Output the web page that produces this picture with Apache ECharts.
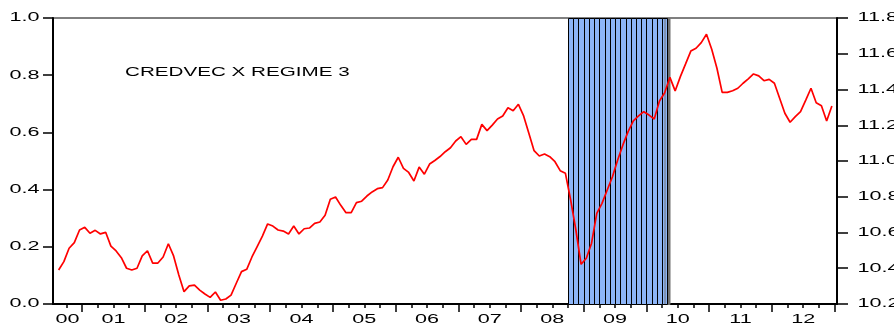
<!DOCTYPE html>
<html>
<head>
<meta charset="utf-8">
<script src="https://cdn.jsdelivr.net/npm/echarts@6/dist/echarts.min.js"></script>
<style>
  html, body { margin: 0; padding: 0; background: #ffffff; }
  #chart { width: 894px; height: 326px; }
</style>
</head>
<body>
<div id="chart"></div>
<script>
// CREDVEC, monthly, from August 2000 to December 2012 (right axis)
const firstYear = 2000;
const firstMonth = 8;
const credvec = [
  10.390, 10.437, 10.512, 10.543, 10.614, 10.629, 10.596, 10.612, 10.592, 10.601,
  10.524, 10.497, 10.459, 10.400, 10.390, 10.400, 10.469, 10.498, 10.429, 10.429,
  10.463, 10.537, 10.469, 10.362, 10.269, 10.301, 10.306, 10.278, 10.256, 10.237,
  10.267, 10.221, 10.228, 10.250, 10.316, 10.381, 10.394, 10.463, 10.521, 10.580,
  10.648, 10.636, 10.614, 10.608, 10.592, 10.636, 10.592, 10.621, 10.625, 10.651,
  10.659, 10.696, 10.786, 10.799, 10.752, 10.711, 10.711, 10.767, 10.775, 10.804,
  10.827, 10.845, 10.851, 10.894, 10.968, 11.021, 10.959, 10.936, 10.888, 10.966,
  10.926, 10.983, 11.003, 11.025, 11.052, 11.074, 11.112, 11.136, 11.093, 11.121,
  11.121, 11.205, 11.170, 11.201, 11.235, 11.252, 11.298, 11.281, 11.317, 11.252,
  11.155, 11.058, 11.028, 11.039, 11.024, 10.996, 10.946, 10.931, 10.782, 10.614,
  10.422, 10.456, 10.540, 10.707, 10.763, 10.838, 10.912, 11.006, 11.090, 11.164,
  11.224, 11.252, 11.276, 11.257, 11.235, 11.336, 11.382, 11.468, 11.392, 11.472,
  11.543, 11.615, 11.631, 11.662, 11.709, 11.625, 11.519, 11.384, 11.384, 11.393,
  11.407, 11.435, 11.460, 11.487, 11.476, 11.449, 11.457, 11.435, 11.351, 11.267,
  11.217, 11.248, 11.276, 11.341, 11.407, 11.326, 11.309, 11.224, 11.308
];

// Months in regime 3 and their regime probability (left axis)
const regime3Months = [
  '2008-10', '2008-11', '2008-12',
  '2009-01', '2009-02', '2009-03', '2009-04', '2009-05', '2009-06',
  '2009-07', '2009-08', '2009-09', '2009-10', '2009-11', '2009-12',
  '2010-01', '2010-02', '2010-03', '2010-04'
];
const regime3Prob = [1, 1, 1, 1, 1, 1, 1, 1, 1, 1, 1, 1, 1, 1, 1, 1, 1, 1, 1];

// Axis ticks and their labels
const leftTicks = [0, 0.2, 0.4, 0.6, 0.8, 1.0];
const leftTickLabels = ['0.0', '0.2', '0.4', '0.6', '0.8', '1.0'];
const rightTicks = [10.2, 10.4, 10.6, 10.8, 11.0, 11.2, 11.4, 11.6, 11.8];
const rightTickLabels = ['10.2', '10.4', '10.6', '10.8', '11.0', '11.2', '11.4', '11.6', '11.8'];
const years = [2000, 2001, 2002, 2003, 2004, 2005, 2006, 2007, 2008, 2009, 2010, 2011, 2012];
const yearLabels = ['00', '01', '02', '03', '04', '05', '06', '07', '08', '09', '10', '11', '12'];
const seriesTitle = 'CREDVEC X REGIME 3';

// Time axis range in fractional years
const X_MIN = 2000.535;
const X_MAX = 2013.04;

const LABEL_FONT = 'Liberation Sans, Arial, sans-serif';
const LABEL_STRETCH = 1.8;

// Observations sit at mid-month
const lineData = credvec.map((v, i) => {
  const idx = firstMonth - 1 + i;
  const y = firstYear + Math.floor(idx / 12);
  const m = (idx % 12) + 1;
  return [y + (m - 0.5) / 12, v];
});

// Each regime bar spans its whole month
const regimeData = regime3Months.map((s, i) => {
  const [y, m] = s.split('-').map(Number);
  return [y + (m - 1) / 12, y + m / 12, regime3Prob[i]];
});

const yearTickValues = [];
const quarterTickValues = [];
for (let y = 2000; y <= 2013; y++) {
  if (y >= X_MIN && y <= X_MAX) yearTickValues.push(y);
  [0.25, 0.5, 0.75].forEach(q => {
    if (y + q >= X_MIN && y + q <= X_MAX) quarterTickValues.push(y + q);
  });
}

const chart = echarts.init(document.getElementById('chart'), null, { renderer: 'canvas' });

const axisLine = { show: true, lineStyle: { color: '#000', width: 2 } };

chart.setOption({
  animation: false,
  backgroundColor: '#ffffff',
  grid: {
    left: 53, right: 57, top: 18, bottom: 22,
    show: true, borderColor: '#000', borderWidth: 1, backgroundColor: 'transparent'
  },
  xAxis: [
    {
      type: 'value', min: X_MIN, max: X_MAX, position: 'bottom',
      axisLine: axisLine,
      axisTick: { show: true, customValues: yearTickValues, length: 8, inside: false,
                  lineStyle: { color: '#000', width: 1.5 } },
      axisLabel: { show: false },
      splitLine: { show: false }
    },
    {
      type: 'value', min: X_MIN, max: X_MAX, position: 'bottom', offset: 0,
      axisLine: { show: false },
      axisTick: { show: true, customValues: quarterTickValues, length: 4, inside: false,
                  lineStyle: { color: '#000', width: 1.5 } },
      axisLabel: { show: false },
      splitLine: { show: false }
    }
  ],
  yAxis: [
    {
      type: 'value', position: 'left', min: 0, max: 1, interval: 0.2,
      axisLine: axisLine,
      axisTick: { show: true, length: 10, lineStyle: { color: '#000', width: 1.5 } },
      axisLabel: { show: false },
      splitLine: { show: false }
    },
    {
      type: 'value', position: 'right', min: 10.2, max: 11.8, interval: 0.2,
      axisLine: axisLine,
      axisTick: { show: true, length: 11, lineStyle: { color: '#000', width: 1.5 } },
      axisLabel: { show: false },
      splitLine: { show: false }
    }
  ],
  series: [
    {
      name: 'REGIME 3',
      type: 'custom',
      xAxisIndex: 0,
      yAxisIndex: 0,
      z: 1,
      encode: { x: [0, 1], y: 2 },
      data: regimeData,
      renderItem: function (params, api) {
        const p0 = api.coord([api.value(0), api.value(2)]);
        const p1 = api.coord([api.value(1), 0]);
        // snap the month edges to whole pixels so the separators stay crisp
        const x0 = Math.round(p0[0]) + 0.5;
        const x1 = Math.round(p1[0]) + 0.5;
        const last = params.dataIndex === regimeData.length - 1;
        return {
          type: 'rect',
          shape: { x: x0, y: Math.round(p0[1]) + 0.5, width: x1 - x0, height: p1[1] - p0[1] },
          style: last
            ? { fill: '#8db5f7', stroke: '#000', lineWidth: 1,
                shadowColor: '#707070', shadowOffsetX: 2.5, shadowOffsetY: 0, shadowBlur: 0 }
            : { fill: '#8db5f7', stroke: '#000', lineWidth: 1 }
        };
      }
    },
    {
      name: 'CREDVEC',
      type: 'line',
      xAxisIndex: 0,
      yAxisIndex: 1,
      z: 3,
      data: lineData,
      symbol: 'none',
      lineStyle: { color: '#ff0000', width: 1.7 },
      itemStyle: { color: '#ff0000' }
    }
  ]
});

// Tick labels and the series caption, drawn horizontally stretched
function stretchedText(text, x, y, align, stretch, size) {
  return {
    type: 'text', x: x, y: y, scaleX: stretch, silent: true, z: 10,
    style: {
      text: text, fill: '#000', fontFamily: LABEL_FONT, fontSize: size,
      align: align, verticalAlign: 'middle',
      textAlign: align, textVerticalAlign: 'middle'
    }
  };
}

const xLeft = chart.convertToPixel({ xAxisIndex: 0 }, X_MIN);
const xRight = chart.convertToPixel({ xAxisIndex: 0 }, X_MAX);
const yBottom = chart.convertToPixel({ yAxisIndex: 0 }, 0);

const graphics = [];
leftTicks.forEach((v, i) => {
  graphics.push(stretchedText(leftTickLabels[i], xLeft - 13.5,
    chart.convertToPixel({ yAxisIndex: 0 }, v), 'right', LABEL_STRETCH, 12));
});
rightTicks.forEach((v, i) => {
  graphics.push(stretchedText(rightTickLabels[i], xRight + 20.5,
    chart.convertToPixel({ yAxisIndex: 1 }, v), 'left', LABEL_STRETCH, 12));
});
years.forEach((y, i) => {
  const centre = (Math.max(X_MIN, y) + Math.min(X_MAX, y + 1)) / 2;
  graphics.push(stretchedText(yearLabels[i], chart.convertToPixel({ xAxisIndex: 0 }, centre),
    yBottom + 15.5, 'center', LABEL_STRETCH, 12));
});
graphics.push(stretchedText(seriesTitle, 125, 73, 'left', 1.65, 12.5));

chart.setOption({ graphic: graphics });
</script>
</body>
</html>
